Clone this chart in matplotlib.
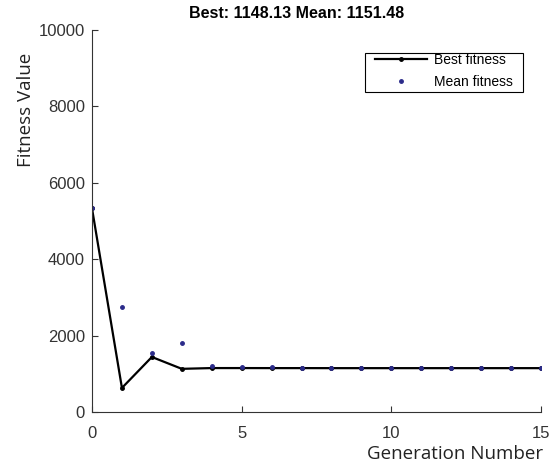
import matplotlib.pyplot as plt
import matplotlib.patches as mpatches
import numpy as np

generations = list(range(16))
best_fitness = [5330, 630, 1440, 1130, 1150, 1150, 1149, 1149, 1148, 1148, 1148, 1148, 1148, 1148, 1148, 1148]
mean_fitness = [5330, 2750, 1540, 1800, 1195, 1180, 1165, 1160, 1160, 1160, 1155, 1152, 1158, 1150, 1155, 1151]
title_text = 'Best: 1148.13 Mean: 1151.48'

plt.rcParams['font.family'] = ['Liberation Sans', 'DejaVu Sans']

W, H = 555, 465
fig = plt.figure(figsize=(W / 100, H / 100), dpi=100)
ax = fig.add_axes([92 / W, 1 - 412 / H, (541 - 92) / W, (412 - 30) / H])

ax.plot(generations, best_fitness, '-', color='black', linewidth=1.6,
        marker='.', markersize=5, label='Best fitness')
ax.plot(generations, mean_fitness, '.', color='#2b2b8a', markersize=5,
        linestyle='none', label='Mean fitness')

ax.set_xlim(0, 15)
ax.set_ylim(0, 10000)
ax.set_xticks([0, 5, 10, 15])
ax.set_yticks(np.arange(0, 10001, 2000))
ax.tick_params(direction='in', labelsize=12, length=4, colors='#333333')
ax.tick_params(axis='x', pad=10)
ax.tick_params(axis='y', pad=5)
for s in ['left', 'bottom']:
    ax.spines[s].set_color('#333333')
ax.spines['top'].set_visible(False)
ax.spines['right'].set_visible(False)

# title and labels placed as in the reference
fig.text(297 / W, 1 - 14 / H, title_text, fontsize=11.5, fontweight='bold',
         ha='center', va='center')
fig.text(26 / W, 1 - 110 / H, 'Fitness Value', fontsize=13.5, family='Open Sans',
         rotation=90, ha='center', va='center', color='#222222')
fig.text(455 / W, 1 - 454 / H, 'Generation Number', fontsize=13.5, family='Open Sans',
         ha='center', va='center', color='#222222')

leg = ax.legend(loc='upper left', fontsize=10, frameon=False,
                handlelength=3.75, handletextpad=0.5, labelspacing=0.6,
                borderpad=0, borderaxespad=0,
                bbox_to_anchor=(375 / W, 1 - 53 / H),
                bbox_transform=fig.transFigure)
fig.patches.append(mpatches.Rectangle((365 / W, 1 - 92 / H), (523 - 365) / W, (92 - 53) / H,
                                      transform=fig.transFigure, fill=False,
                                      edgecolor='black', linewidth=0.8))

fig.savefig('out.png', dpi=100)
